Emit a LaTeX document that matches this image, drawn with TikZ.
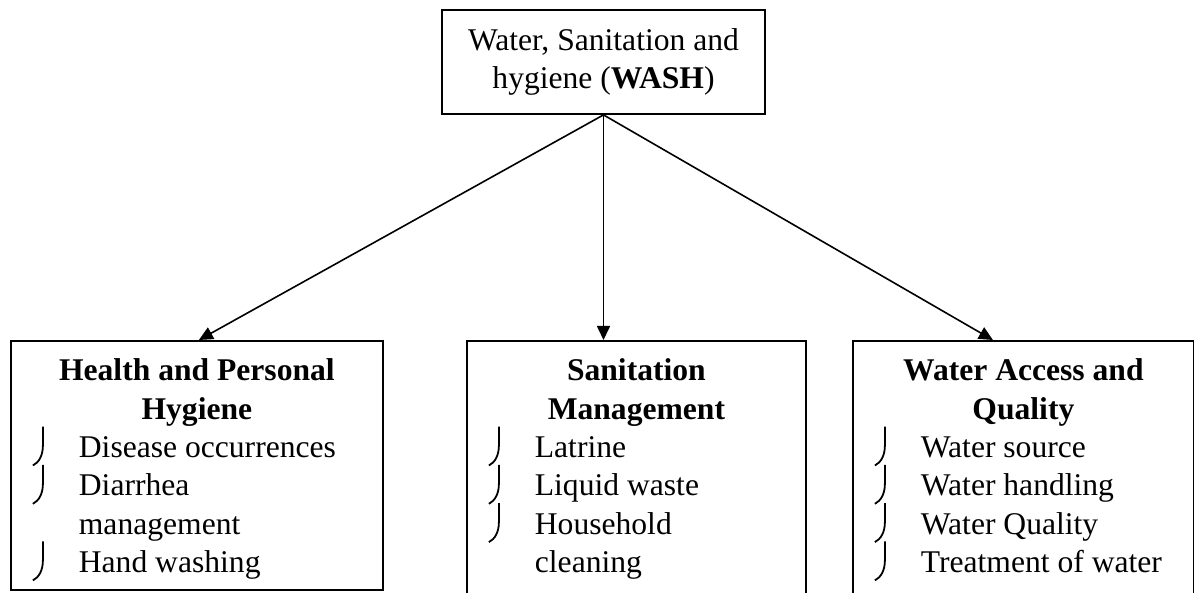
\documentclass[tikz,border=0pt]{standalone}
\usepackage{fontspec}
\setmainfont{Liberation Serif}
\usetikzlibrary{arrows.meta}

% hooked list mark
\newcommand{\hookmark}{\tikz[baseline=0pt, overlay]
  \draw[line width=0.9pt] (0,15.5pt) -- (0,6pt) .. controls (0,1pt) and (-2pt,-2.5pt) .. (-5pt,-4pt);}

\begin{document}
\begin{tikzpicture}[>={Triangle[length=7pt,width=6.5pt]}, x=0.5pt, y=-0.5pt,
  every node/.style={font=\fontsize{15.8}{19.15}\selectfont},
  topbox/.style={draw, line width=0.9pt, minimum width=161.5pt, minimum height=52pt,
    inner sep=0pt, align=center},
  catbox/.style={draw, line width=0.9pt, inner xsep=0pt, inner ysep=3.25pt, anchor=north west}]

\useasboundingbox (0,0) rectangle (1194,593);
\clip (0,0) rectangle (1194,593);

%------------------ TOP ------------------%
\node[topbox] (wash) at (603.5,62) {Water, Sanitation and\\hygiene (\textbf{WASH})};

%------------------ CATEGORIES ------------------%
\node[catbox] (health) at (10,340) {%
  \begin{tabular}{@{\hspace{16pt}}p{18pt}@{}p{152pt}@{}}
    \multicolumn{2}{@{}c@{}}{\rule{0pt}{16.75pt}\textbf{Health and Personal}}\\
    \multicolumn{2}{@{}c@{}}{\textbf{Hygiene}}\\
    \hookmark & Disease occurrences\\
    \hookmark & Diarrhea\\
              & management\\
    \hookmark & Hand washing
  \end{tabular}};

\node[catbox] (sanit) at (466,340) {%
  \begin{tabular}{@{\hspace{16pt}}p{18pt}@{}p{135.5pt}@{}}
    \multicolumn{2}{@{}c@{}}{\rule{0pt}{16.75pt}\textbf{Sanitation}}\\
    \multicolumn{2}{@{}c@{}}{\textbf{Management}}\\
    \hookmark & Latrine\\
    \hookmark & Liquid waste\\
    \hookmark & Household\\
              & cleaning\\
              &
  \end{tabular}};

\node[catbox] (waterq) at (852,340) {%
  \begin{tabular}{@{\hspace{16pt}}p{18pt}@{}p{136.5pt}@{}}
    \multicolumn{2}{@{}c@{}}{\rule{0pt}{16.75pt}\textbf{Water Access and}}\\
    \multicolumn{2}{@{}c@{}}{\textbf{Quality}}\\
    \hookmark & Water source\\
    \hookmark & Water handling\\
    \hookmark & Water Quality\\
    \hookmark & Treatment of water\\
              &
  \end{tabular}};

%------------------ ARROWS ------------------%
\draw[->, line width=0.8pt] (wash.south) -- ([xshift=1pt]health.north);
\draw[->, line width=0.8pt] (wash.south) -- (wash.south |- sanit.north);
\draw[->, line width=0.8pt] (wash.south) -- ([xshift=-15.25pt]waterq.north);

\end{tikzpicture}
\end{document}
